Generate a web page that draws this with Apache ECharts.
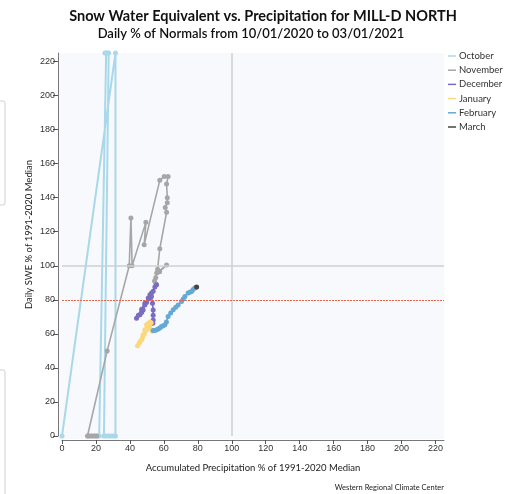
<!DOCTYPE html>
<html><head><meta charset="utf-8">
<script src="https://cdn.jsdelivr.net/npm/echarts@6/dist/echarts.min.js"></script>
<style>html,body{margin:0;padding:0;background:#fff}#c{width:509px;height:494px}</style>
</head><body><div id="c"></div>
<script>
// ---- data: [accumulated precip % of median, daily SWE % of median] ----
const monthNames = ['October', 'November', 'December', 'January', 'February', 'March'];
const monthColors = ['#a9d8ea', '#a6a6a6', '#7b6cc2', '#fdd77c', '#64a9d6', '#444444'];

const october = [[0,0],[31.5,225],[31.5,0],[30.5,0],[29,0],[27.5,0],[26,0],[24.7,0],
  [27.5,225],[26.8,225],[26,225],[25.3,225],[21.9,0],[21,0]];
const november = [[20.4,0],[19.5,0],[18.5,0],[17.5,0],[16.5,0],[15.5,0],[15,0],
  [26.6,50],[39.6,100],[40.6,128],[41.3,100],[49.4,125.5],[48.4,112.4],[57.6,150.2],
  [60.2,152.5],[62.5,152.5],[61.6,148],[62,140],[62,137],[60.8,134.3],[61.6,131.4],
  [57.6,110],[56.3,98],[57.5,96.5],[61.6,100.5],[55.8,95.7],[55.2,93],[54.5,91],[55.2,89.5]];
const december = [[55.7,88.8],[54.7,87.5],[53.7,85],[52.7,84],[51.8,83],[50.8,81],[49.8,78.5],
  [48.8,77],[47.8,74],[46.9,72.5],[45.9,71.2],[43.9,69.2],[45,71],[46.9,74.5],[48.8,78],
  [51,80.5],[52.7,82],[53.3,78],[53.7,74],[53.7,71],[53.7,68.2],[53.5,66.3]];
const january = [[52.5,66.5],[51.8,67],[50.5,66],[49.8,65.3],[48.8,62.4],[47.8,59.4],[46.9,56.5],
  [45.5,54.5],[44.5,53],[46,55.5],[47.5,58],[48.5,60],[49.5,62],[50.5,63.5],[51.5,64],
  [52.7,62.4],[53.2,61.5]];
const february = [[53.7,62],[54.7,62],[55.7,62.4],[56.6,62.8],[57.6,63.5],[58.6,64.3],[59.6,64.8],
  [60.6,65.3],[61.5,67],[62.5,70.2],[64,72.2],[65.5,74.1],[67,75.6],[68.4,77],[70.4,79],
  [71.4,80.5],[72.4,82],[74.3,84],[75.3,84.5],[76.3,84.9],[77.2,86],[78.2,86.9],[78.8,87.3]];
const march = [[79.3,87.6]];

const monthData = [october, november, december, january, february, march];
const axisTicks = [0,20,40,60,80,100,120,140,160,180,200,220];
const axisMax = 225;
const normalLine = 100;
const warnLine = 80;

const titleText = 'Snow Water Equivalent vs. Precipitation for MILL-D NORTH';
const subtitleText = 'Daily % of Normals from 10/01/2020 to 03/01/2021';
const xName = 'Accumulated Precipitation % of 1991-2020 Median';
const yName = 'Daily SWE % of 1991-2020 Median';
const creditText = 'Western Regional Climate Center';

// ---- chart ----
const chart = echarts.init(document.getElementById('c'), null, {renderer: 'canvas'});
const tickLabelStyle = {color: '#333', fontSize: 9, fontFamily: 'Liberation Sans, Arial, sans-serif'};

const series = monthNames.map((name, i) => ({
  name: name,
  type: 'line',
  data: monthData[i],
  symbol: 'circle',
  symbolSize: 5,
  showSymbol: true,
  z: 3,
  lineStyle: {color: monthColors[i], width: i === 0 ? 2 : 1.6},
  itemStyle: {color: monthColors[i]},
  emphasis: {disabled: true},
  animation: false
}));

series.unshift({
  name: 'ref',
  type: 'line',
  data: [],
  z: 1,
  silent: true,
  animation: false,
  markLine: {
    silent: true,
    symbol: 'none',
    label: {show: false},
    animation: false,
    data: [
      {yAxis: normalLine, lineStyle: {color: '#cfcfcf', width: 1.5, type: 'solid'}},
      {xAxis: normalLine, lineStyle: {color: '#cfcfcf', width: 1.5, type: 'solid'}},
      {yAxis: warnLine, lineStyle: {color: '#e0664e', width: 1, type: [2, 1]}}
    ]
  }
});

chart.setOption({
  animation: false,
  backgroundColor: '#ffffff',
  title: [
    {text: titleText, left: 263, top: 9, textAlign: 'center', padding: 0,
     textStyle: {fontFamily: 'Lato, sans-serif', fontWeight: 'bold', fontSize: 14.5, color: '#111'}},
    {text: subtitleText, left: 251, top: 27, textAlign: 'center', padding: 0,
     textStyle: {fontFamily: 'Lato, sans-serif', fontWeight: 600, fontSize: 13, color: '#111'}},
    {text: creditText, right: 65, top: 484, padding: 0,
     textStyle: {fontFamily: 'Lato, sans-serif', fontWeight: 'normal', fontSize: 7.5, color: '#222'}}
  ],
  legend: {
    orient: 'vertical',
    left: 443,
    top: 46,
    padding: [5, 5, 5, 5],
    data: monthNames,
    icon: 'rect',
    itemWidth: 8,
    itemHeight: 1.5,
    itemGap: 4.2,
    selectedMode: false,
    textStyle: {fontFamily: 'Lato, sans-serif', fontSize: 9.5, color: '#333', padding: [0, 0, 0, -2]}
  },
  graphic: [
    {type: 'rect', z: -10, silent: true, shape: {x: 59, y: 53, width: 385, height: 386},
     style: {fill: '#f7f9fc'}},
    {type: 'rect', z: -10, silent: true, shape: {x: -10, y: 101, width: 15, height: 104, r: 2},
     style: {fill: 'none', stroke: '#d0d0d0', lineWidth: 1}},
    {type: 'rect', z: -10, silent: true, shape: {x: -10, y: 370, width: 15, height: 140, r: 2},
     style: {fill: 'none', stroke: '#d0d0d0', lineWidth: 1}}
  ],
  grid: {left: 62, right: 65, top: 53, bottom: 58, containLabel: false, show: false},
  xAxis: {
    type: 'value', min: 0, max: axisMax, offset: 4,
    name: xName, nameLocation: 'middle', nameGap: 23, nameMoveOverlap: false,
    nameTextStyle: {fontFamily: 'Lato, sans-serif', fontSize: 9.5, color: '#222'},
    axisLine: {show: true, onZero: false, lineStyle: {color: '#777', width: 1}},
    axisTick: {show: true, length: 4, customValues: axisTicks, lineStyle: {color: '#555'}},
    axisLabel: Object.assign({customValues: axisTicks, margin: 4}, tickLabelStyle),
    splitLine: {show: false}
  },
  yAxis: {
    type: 'value', min: 0, max: axisMax, offset: 4,
    name: yName, nameLocation: 'middle', nameGap: 24, nameRotate: 90, nameMoveOverlap: false,
    nameTextStyle: {fontFamily: 'Lato, sans-serif', fontSize: 9.5, color: '#222', padding: [0, 0, 0, 20]},
    axisLine: {show: true, onZero: false, lineStyle: {color: '#777', width: 1}},
    axisTick: {show: true, length: 5, customValues: axisTicks, lineStyle: {color: '#555'}},
    axisLabel: Object.assign({customValues: axisTicks, margin: 3}, tickLabelStyle),
    splitLine: {show: false}
  },
  series: series
});
</script></body></html>
